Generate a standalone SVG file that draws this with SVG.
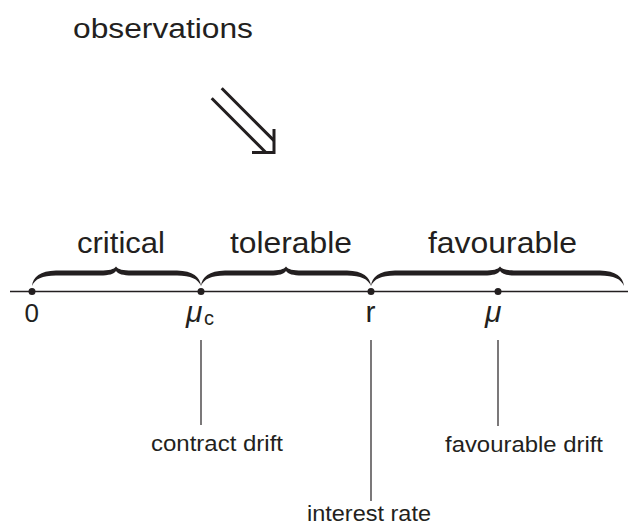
<svg xmlns="http://www.w3.org/2000/svg" width="634" height="527" viewBox="0 0 634 527">
<style>
.t{font-family:"Liberation Sans",Arial,sans-serif;fill:#231f20}
.big{font-size:29px}
.small{font-size:22px}
.mu{font-family:"Liberation Sans",Arial,sans-serif;font-style:italic;fill:#231f20}
.ln{stroke:#231f20;fill:none}
.brace{fill:#231f20}
.dot{fill:#231f20}
</style>
<rect width="634" height="527" fill="#fff"/>
<g id="observations">
<text class="t" font-size="27" x="73" y="38" textLength="180" lengthAdjust="spacingAndGlyphs">observations</text>
</g>
<g id="arrow">
<path class="ln" stroke-width="3" d="M221.7,88.3 L274,140.6 M211.7,98.3 L265.9,152.5"/>
<path class="ln" stroke-width="3" d="M274,129 L274,152.5 L252,152.5"/>
</g>
<g id="axis">
<line class="ln" stroke-width="1.5" x1="10" y1="291.5" x2="628" y2="291.5"/>
</g>
<g id="critical">
<path class="brace" d="M32,286 C33,277 40,271 56,270.5 L100,270.5 C109,270.5 114,269.5 116,266.5 C118,269.5 123,270.5 132,270.5 L177,270.5 C193,271 200,277 201,286 C198,279 191,275.5 177,275.5 L132,275.5 C123,275.5 118,274 116,271 C114,274 109,275.5 100,275.5 L56,275.5 C42,275.5 35,279 32,286 Z"/>
<text class="t big" x="77" y="253" textLength="88" lengthAdjust="spacingAndGlyphs">critical</text>
</g>
<g id="tolerable">
<path class="brace" d="M201,286 C202,277 209,271 225,270.5 L270,270.5 C279,270.5 284,269.5 286,266.5 C288,269.5 293,270.5 302,270.5 L347,270.5 C363,271 370,277 371,286 C368,279 361,275.5 347,275.5 L302,275.5 C293,275.5 288,274 286,271 C284,274 279,275.5 270,275.5 L225,275.5 C211,275.5 204,279 201,286 Z"/>
<text class="t big" x="230" y="253" textLength="122" lengthAdjust="spacingAndGlyphs">tolerable</text>
</g>
<g id="favourable">
<path class="brace" d="M371,286 C372,277 379,271 395,270.5 L484,270.5 C493,270.5 498,269.5 500,266.5 C502,269.5 507,270.5 516,270.5 L600,270.5 C616,271 623,277 624,286 C621,279 614,275.5 600,275.5 L516,275.5 C507,275.5 502,274 500,271 C498,274 493,275.5 484,275.5 L395,275.5 C381,275.5 374,279 371,286 Z"/>
<text class="t big" x="428" y="253" textLength="149" lengthAdjust="spacingAndGlyphs">favourable</text>
</g>
<g id="zero">
<circle class="dot" cx="32" cy="291.5" r="3.5"/>
<text class="t" font-size="26" x="24.5" y="322">0</text>
</g>
<g id="mu-c">
<circle class="dot" cx="201" cy="291.5" r="3.5"/>
<text class="mu" font-size="30" x="186" y="322">μ</text>
<text class="t" font-size="20" x="204" y="325">c</text>
</g>
<g id="r">
<circle class="dot" cx="371" cy="291.5" r="3.5"/>
<text class="t" font-size="30" x="365.5" y="322">r</text>
</g>
<g id="mu">
<circle class="dot" cx="498" cy="291.5" r="3.5"/>
<text class="mu" font-size="30" x="485" y="322">μ</text>
</g>
<g id="connectors">
<line class="ln" stroke-width="1.2" x1="201" y1="340" x2="201" y2="425"/>
<line class="ln" stroke-width="1.2" x1="371" y1="340" x2="371" y2="501"/>
<line class="ln" stroke-width="1.2" x1="498" y1="340" x2="498" y2="426"/>
</g>
<g id="contract-drift">
<text class="t small" x="151" y="451" textLength="132" lengthAdjust="spacingAndGlyphs">contract drift</text>
</g>
<g id="interest-rate">
<text class="t small" x="307" y="521" textLength="124" lengthAdjust="spacingAndGlyphs">interest rate</text>
</g>
<g id="favourable-drift">
<text class="t small" x="445" y="452" textLength="158" lengthAdjust="spacingAndGlyphs">favourable drift</text>
</g>
</svg>
